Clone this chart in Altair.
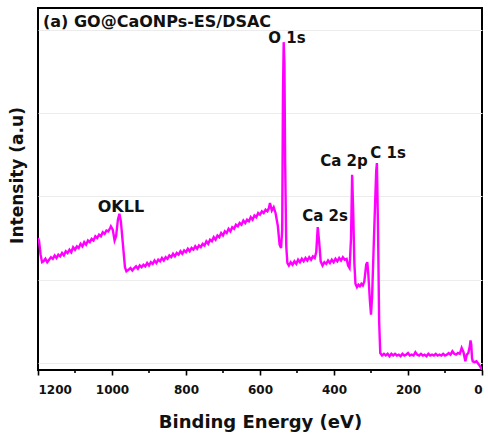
import altair as alt
import pandas as pd

# Survey spectrum: binding energy (eV), intensity (a.u.)
hi_bg_E = [1200, 1197, 1193, 1189, 1185, 1180, 1175, 1170, 1165, 1160, 1155, 1150, 1145, 1140,
           1135, 1130, 1125, 1120, 1115, 1110, 1105, 1100, 1095, 1090, 1085, 1080, 1075, 1070,
           1065, 1060, 1055, 1050, 1045, 1040, 1035, 1030, 1025, 1020, 1015, 1010, 1005]
hi_bg_I = [1.50, 1.46, 1.30, 1.21, 1.22, 1.25, 1.21, 1.24, 1.27, 1.25, 1.29, 1.26, 1.30, 1.28,
           1.32, 1.29, 1.34, 1.32, 1.36, 1.33, 1.39, 1.36, 1.40, 1.38, 1.43, 1.40, 1.45, 1.42,
           1.47, 1.45, 1.49, 1.47, 1.52, 1.50, 1.54, 1.52, 1.57, 1.55, 1.59, 1.58, 1.62]

okll_E = [1003, 998, 993, 989, 984, 980, 976, 970, 965, 961]
okll_I = [1.64, 1.60, 1.47, 1.52, 1.72, 1.79, 1.70, 1.40, 1.15, 1.10]

mid_bg_E = [955, 950, 945, 940, 935, 930, 925, 920, 915, 910, 905, 900, 895, 890, 885, 880,
            875, 870, 865, 860, 855, 850, 845, 840, 835, 830, 825, 820, 815, 810, 805, 800,
            795, 790, 785, 780, 775, 770, 765, 760, 755, 750, 745, 740, 735, 730, 725, 720,
            715, 710, 705, 700, 695, 690, 685, 680, 675, 670, 665, 660, 655, 650, 645, 640,
            635, 630, 625, 620, 615, 610, 605, 600, 595, 590, 585, 580, 576]
mid_bg_I = [1.12, 1.14, 1.11, 1.14, 1.16, 1.13, 1.17, 1.15, 1.18, 1.16, 1.20, 1.17, 1.21, 1.19, 1.23, 1.20,
            1.24, 1.22, 1.26, 1.23, 1.27, 1.25, 1.29, 1.27, 1.31, 1.28, 1.32, 1.30, 1.34, 1.31, 1.35, 1.33,
            1.37, 1.34, 1.38, 1.36, 1.40, 1.37, 1.41, 1.39, 1.43, 1.41, 1.46, 1.43, 1.48, 1.46, 1.51, 1.48,
            1.53, 1.51, 1.56, 1.53, 1.58, 1.56, 1.61, 1.58, 1.63, 1.61, 1.66, 1.64, 1.68, 1.66, 1.71, 1.68,
            1.72, 1.70, 1.75, 1.72, 1.77, 1.75, 1.80, 1.78, 1.82, 1.80, 1.84, 1.82, 1.86]

o1s_E = [573, 568, 563, 558, 552, 547, 543, 540, 538, 536, 534, 532, 529, 526]
o1s_I = [1.92, 1.83, 1.87, 1.80, 1.65, 1.42, 1.38, 1.60, 3.20, 3.85, 3.60, 2.40, 1.40, 1.20]

ca2s_E = [522, 517, 512, 507, 502, 497, 492, 487, 482, 477, 472, 467, 462, 457, 452, 448,
          444, 440, 436, 431, 426, 421, 416, 411, 406, 401, 396, 391, 386, 381, 376, 371,
          366, 362, 358, 354]
ca2s_I = [1.17, 1.21, 1.18, 1.22, 1.19, 1.24, 1.21, 1.25, 1.22, 1.26, 1.23, 1.27, 1.24, 1.28, 1.26, 1.33,
          1.63, 1.45, 1.22, 1.17, 1.21, 1.19, 1.23, 1.20, 1.24, 1.21, 1.25, 1.22, 1.26, 1.23, 1.27, 1.24,
          1.25, 1.17, 1.14, 1.50]

ca2p_c1s_E = [351, 348, 345, 342, 338, 334, 330, 326, 322, 318, 313, 310, 307, 303, 300, 297,
              292, 286, 284, 281, 278]
ca2p_c1s_I = [2.26, 1.80, 1.20, 0.95, 0.91, 0.94, 0.92, 0.95, 0.93, 0.98, 1.18, 1.21, 1.05, 0.75, 0.58, 0.80,
              1.50, 2.30, 2.40, 1.60, 0.50]

low_bg_E = [275, 270, 265, 260, 255, 250, 245, 240, 235, 230, 225, 220, 215, 210, 205, 200,
            195, 190, 185, 180, 175, 170, 165, 160, 155, 150, 145, 140, 135, 130, 125, 120,
            115, 110, 105, 100, 95, 90, 85, 80, 75, 70, 65, 60, 55, 50, 45, 41, 37, 33, 31,
            29, 27, 25, 20, 15, 10, 5, 0]
low_bg_I = [0.12, 0.09, 0.11, 0.09, 0.11, 0.08, 0.11, 0.09, 0.11, 0.09, 0.10, 0.08, 0.11, 0.09, 0.10, 0.12,
            0.09, 0.10, 0.09, 0.13, 0.10, 0.09, 0.11, 0.09, 0.10, 0.08, 0.11, 0.09, 0.10, 0.09, 0.11, 0.09,
            0.10, 0.09, 0.11, 0.09, 0.10, 0.12, 0.10, 0.14, 0.11, 0.10, 0.12, 0.11, 0.18, 0.13, 0.02, 0.10, 0.12, 0.20, 0.27,
            0.22, 0.06, 0.02, 0.01, 0.02, -0.01, -0.04, -0.08]

energy = hi_bg_E + okll_E + mid_bg_E + o1s_E + ca2s_E + ca2p_c1s_E + low_bg_E
intensity = hi_bg_I + okll_I + mid_bg_I + o1s_I + ca2s_I + ca2p_c1s_I + low_bg_I

# Panel title and peak annotations
title_text = ["(a) GO@CaONPs-ES/DSAC"]
title_energy = [1186.5]
title_intensity = [4.03]

peak_text = ["O 1s", "C 1s", "Ca 2p", "Ca 2s", "OKLL"]
peak_energy = [527, 254, 373, 424, 976]
peak_intensity = [3.84, 2.46, 2.37, 1.70, 1.81]
peak_size = [15, 15, 15, 15, 16]

major_ticks = [0, 200, 400, 600, 800, 1000, 1200]
minor_ticks = [100, 300, 500, 700, 900, 1100]
y_grid = [0, 1, 2, 3, 4]

spec_df = pd.DataFrame({"E": energy, "I": intensity})
title_df = pd.DataFrame({"t": title_text, "E": title_energy, "I": title_intensity})
peak_df = pd.DataFrame({"t": peak_text, "E": peak_energy, "I": peak_intensity, "s": peak_size})
minor_df = pd.DataFrame({"E": minor_ticks})

FONT = "DejaVu Sans"

x_scale = alt.Scale(domain=[0, 1200], reverse=True, nice=False)
y_scale = alt.Scale(domain=[-0.084, 4.26], nice=False, zero=False)

line = alt.Chart(spec_df).mark_line(color="#FF00FF", strokeWidth=2.4, clip=True).encode(
    x=alt.X("E:Q", sort=None, scale=x_scale,
            axis=alt.Axis(values=major_ticks, format="d",
                          tickSize=5, tickWidth=1.6, tickColor="black",
                          domain=False, grid=False,
                          labelFont=FONT, labelFontWeight="bold", labelFontSize=12,
                          labelColor="#111", labelPadding=9,
                          title="Binding Energy (eV)", titleFont=FONT, titleFontWeight="bold",
                          titleFontSize=18, titleColor="#111", titleY=57,
                          titleBaseline="alphabetic")),
    y=alt.Y("I:Q", scale=y_scale,
            axis=alt.Axis(values=y_grid, labels=False, ticks=False, domain=False,
                          grid=True, gridColor="#ececec", gridWidth=1,
                          title="Intensity (a.u)", titleFont=FONT, titleFontWeight="bold",
                          titleFontSize=17, titleColor="#111", titleX=-16, titleY=167,
                          titleBaseline="alphabetic", titleAngle=270)),
)

# short minor ticks hanging below the bottom frame
minor = alt.Chart(minor_df).mark_rule(color="black", strokeWidth=1.6).encode(
    x=alt.X("E:Q", scale=x_scale),
    y=alt.value(362),
    y2=alt.value(365),
)

title_layer = alt.Chart(title_df).mark_text(font=FONT, fontWeight="bold", color="#111",
                                            baseline="alphabetic", align="left",
                                            fontSize=16).encode(
    x=alt.X("E:Q", scale=x_scale),
    y=alt.Y("I:Q", scale=y_scale),
    text="t:N",
)

peak_layer = alt.Chart(peak_df).mark_text(font=FONT, fontWeight="bold", color="#111",
                                          baseline="alphabetic", align="center").encode(
    x=alt.X("E:Q", scale=x_scale),
    y=alt.Y("I:Q", scale=y_scale),
    text="t:N",
    size=alt.Size("s:Q", scale=None, legend=None),
)

chart = alt.layer(line, minor, title_layer, peak_layer).properties(
    width=444, height=362,
    background="white",
    autosize=alt.AutoSizeParams(type="none"),
    padding={"left": 38, "top": 8, "right": 6, "bottom": 69},
).configure_view(stroke="black", strokeWidth=2)

chart.save("out.html", embed_options={"renderer": "svg", "actions": False})
